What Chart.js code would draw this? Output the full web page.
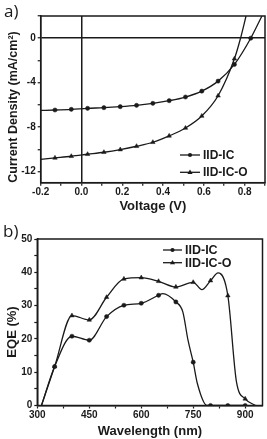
<!DOCTYPE html>
<html>
<head>
<meta charset="utf-8">
<script src="https://cdn.jsdelivr.net/npm/chart.js@4"></script>
<style>
  body { margin: 0; background: #fff; }
  canvas { display: block; }
</style>
</head>
<body>
<canvas id="jv" width="267" height="218"></canvas>
<canvas id="eqe" width="267" height="221"></canvas>
<script>
// ---- panel a) J-V curves ----
var markV = [-0.13, -0.05, 0.03, 0.11, 0.19, 0.27, 0.35, 0.43, 0.51, 0.59, 0.67, 0.75, 0.83];
var icV  = [-0.2, -0.13, -0.05, 0.03, 0.11, 0.19, 0.27, 0.35, 0.43, 0.51, 0.59, 0.67, 0.75, 0.83, 0.885];
var icJ  = [-6.50, -6.46, -6.40, -6.31, -6.25, -6.16, -6.04, -5.86, -5.62, -5.29, -4.76, -3.86, -2.36, 0, 2.0];
var icoV = [-0.2, -0.13, -0.05, 0.03, 0.11, 0.19, 0.27, 0.35, 0.43, 0.51, 0.59, 0.67, 0.75, 0.78, 0.807];
var icoJ = [-10.90, -10.77, -10.62, -10.44, -10.26, -10.02, -9.72, -9.36, -8.79, -8.08, -7.00, -5.18, -1.85, 0, 2.0];

// ---- panel b) EQE spectra ----
var markWl = [350, 400, 450, 500, 550, 600, 650, 700, 750, 800, 850, 900];
var icWl   = [312, 350, 400, 450, 500, 550, 600, 650, 662, 700, 720, 735, 750, 762, 790, 800, 850, 900];
var icEqe  = [0, 11.7, 20.8, 19.6, 26.7, 30.1, 30.7, 33.1, 33.6, 31.1, 28.1, 19.6, 13.0, 6.6, 0, 0, 0, 0];
var icoWl  = [312, 350, 400, 450, 500, 550, 600, 650, 700, 750, 775, 800, 822, 850, 875, 900, 930];
var icoEqe = [0, 11.7, 27.0, 25.7, 32.5, 38.0, 38.4, 37.3, 35.6, 37.0, 34.8, 37.5, 39.8, 33.0, 7.0, 2.0, 0];

var seriesNames = ['IID-IC', 'IID-IC-O'];

var INK = '#1a1a1a';
var FONT = '"Liberation Sans", Arial, sans-serif';

function pts(xs, ys) {
  return xs.map(function (x, i) { return { x: x, y: ys[i] }; });
}

function makeSet(label, xs, ys, marks, style) {
  return {
    label: label,
    data: pts(xs, ys),
    borderColor: INK,
    backgroundColor: INK,
    borderWidth: 1.3,
    pointStyle: style,
    pointRadius: function (c) { return marks.indexOf(c.raw.x) >= 0 ? (style === 'triangle' ? 2.6 : 2.1) : 0; },
    pointBorderWidth: 0.5,
    cubicInterpolationMode: 'monotone',
    fill: false
  };
}

// frame, panel label, rotated y title and the line+marker legend
function extras(o) {
  return {
    id: 'extras',
    afterDraw: function (chart) {
      var ctx = chart.ctx, a = chart.chartArea;
      ctx.save();
      ctx.strokeStyle = INK;
      ctx.lineWidth = 1.5;
      ctx.strokeRect(a.left, a.top, a.right - a.left, a.bottom - a.top);

      ctx.fillStyle = INK;
      ctx.font = '17px "Open Sans", sans-serif';
      ctx.textBaseline = 'alphabetic';
      ctx.textAlign = 'left';
      ctx.fillText(o.panel, o.panelX, o.panelY);

      ctx.save();
      ctx.translate(o.ytX, o.ytY);
      ctx.rotate(-Math.PI / 2);
      ctx.font = 'bold ' + o.ytSize + 'px ' + FONT;
      ctx.textAlign = 'center';
      ctx.textBaseline = 'middle';
      ctx.fillText(o.yTitle, 0, 0);
      ctx.restore();

      ctx.font = 'bold ' + o.legSize + 'px ' + FONT;
      ctx.textBaseline = 'middle';
      seriesNames.forEach(function (name, i) {
        var y = o.legY[i];
        ctx.lineWidth = 1.3;
        ctx.beginPath();
        ctx.moveTo(o.legX0, y);
        ctx.lineTo(o.legX1, y);
        ctx.stroke();
        var mx = (o.legX0 + o.legX1) / 2;
        ctx.beginPath();
        if (i === 0) {
          ctx.arc(mx, y, 2.1, 0, Math.PI * 2);
        } else {
          ctx.moveTo(mx, y - 2.8);
          ctx.lineTo(mx + 2.6, y + 1.6);
          ctx.lineTo(mx - 2.6, y + 1.6);
          ctx.closePath();
        }
        ctx.fill();
        ctx.fillText(name, o.legX1 + 3, y + 0.5);
      });
      ctx.restore();
    }
  };
}

var tickFont = { family: FONT, size: 10, weight: 'bold' };

new Chart(document.getElementById('jv'), {
  type: 'line',
  data: {
    datasets: [
      makeSet(seriesNames[0], icV, icJ, markV, 'circle'),
      makeSet(seriesNames[1], icoV, icoJ, markV, 'triangle')
    ]
  },
  options: {
    responsive: false,
    animation: false,
    layout: { padding: { top: 16, right: 2, left: 0, bottom: 0 } },
    plugins: { legend: { display: false }, tooltip: { enabled: false } },
    scales: {
      x: {
        type: 'linear', min: -0.2, max: 0.9,
        afterFit: function (s) { s.height = 35.3; },
        border: { display: true, color: INK, width: 1.5 },
        grid: {
          color: function (c) { return Math.abs(c.tick.value) < 1e-6 ? INK : 'rgba(0,0,0,0)'; },
          lineWidth: 1.5, tickLength: 3, tickColor: INK, tickWidth: 1.2
        },
        ticks: {
          stepSize: 0.1, includeBounds: false, autoSkip: false, maxRotation: 0,
          color: INK, font: tickFont, padding: 1,
          callback: function (v) {
            var k = Math.round(v * 10);
            return (k % 2 === 0 && k <= 8) ? (k / 10).toFixed(1) : '';
          }
        },
        title: { display: true, text: 'Voltage (V)', color: INK, font: { family: FONT, size: 13, weight: 'bold' }, padding: { top: 0, bottom: 4 } }
      },
      y: {
        type: 'linear', min: -13, max: 2,
        afterFit: function (s) { s.width = 40.7; },
        border: { display: true, color: INK, width: 1.5 },
        grid: {
          color: function (c) { return Math.abs(c.tick.value) < 1e-6 ? INK : 'rgba(0,0,0,0)'; },
          lineWidth: 1.5, tickLength: 3, tickColor: INK, tickWidth: 1.2
        },
        ticks: {
          stepSize: 2, includeBounds: false, autoSkip: false,
          color: INK, font: tickFont, padding: 2,
          callback: function (v) { return (v % 4 === 0 && v <= 0) ? String(v) : ''; }
        }
      }
    }
  },
  plugins: [extras({
    panel: 'a)', panelX: 4, panelY: 17,
    yTitle: 'Current Density (mA/cm\u00B2)', ytX: 13.5, ytY: 107, ytSize: 12.5,
    legSize: 12, legX0: 180, legX1: 200, legY: [155, 172.3]
  })]
});

new Chart(document.getElementById('eqe'), {
  type: 'line',
  data: {
    datasets: [
      makeSet(seriesNames[0], icWl, icEqe, markWl, 'circle'),
      makeSet(seriesNames[1], icoWl, icoEqe, markWl, 'triangle')
    ]
  },
  options: {
    responsive: false,
    animation: false,
    layout: { padding: { top: 21, right: 3.7, left: 0, bottom: 0 } },
    plugins: { legend: { display: false }, tooltip: { enabled: false } },
    scales: {
      x: {
        type: 'linear', min: 300, max: 950,
        afterFit: function (s) { s.height = 33.5; },
        border: { display: true, color: INK, width: 1.5 },
        grid: { color: 'rgba(0,0,0,0)', tickLength: 3, tickColor: INK, tickWidth: 1.2 },
        ticks: {
          stepSize: 75, includeBounds: false, autoSkip: false, maxRotation: 0,
          color: INK, font: tickFont, padding: 1,
          callback: function (v) { return (v - 300) % 150 === 0 ? String(v) : ''; }
        },
        title: { display: true, text: 'Wavelength (nm)', color: INK, font: { family: FONT, size: 13, weight: 'bold' }, padding: { top: 0, bottom: 0 } }
      },
      y: {
        type: 'linear', min: 0, max: 50,
        afterFit: function (s) { s.width = 37.3; },
        border: { display: true, color: INK, width: 1.5 },
        grid: { color: 'rgba(0,0,0,0)', tickLength: 3, tickColor: INK, tickWidth: 1.2 },
        ticks: {
          stepSize: 5, autoSkip: false,
          color: INK, font: tickFont, padding: 2,
          callback: function (v) { return v % 10 === 0 ? String(v) : ''; }
        }
      }
    }
  },
  plugins: [extras({
    panel: 'b)', panelX: 3, panelY: 19,
    yTitle: 'EQE (%)', ytX: 12, ytY: 114, ytSize: 13,
    legSize: 12.5, legX0: 163, legX1: 182, legY: [32, 44.7]
  })]
});
</script>
</body>
</html>
